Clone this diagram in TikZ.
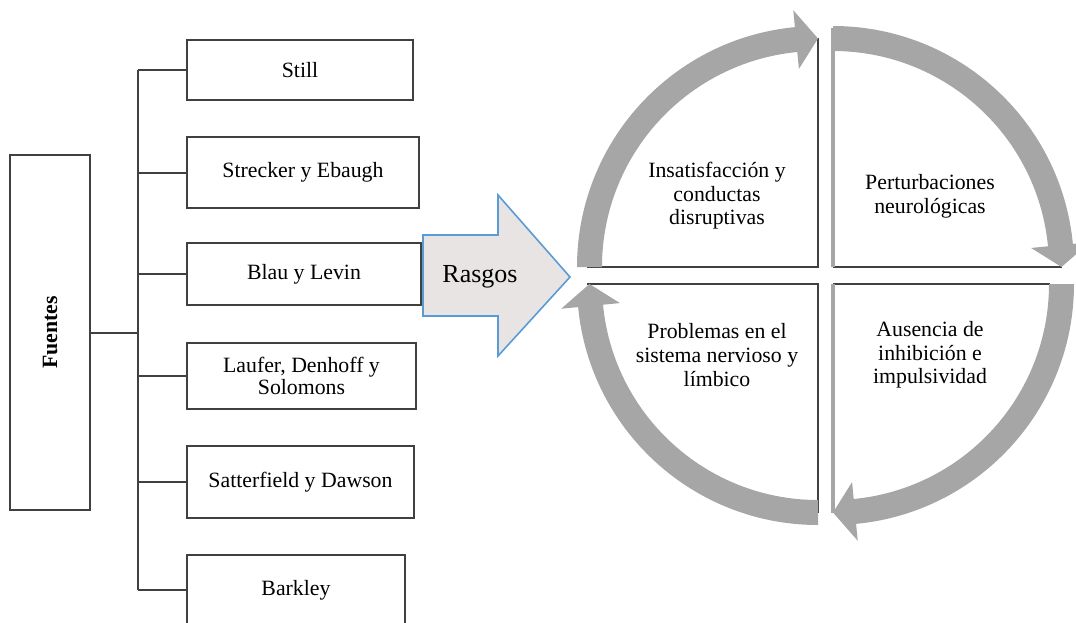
\documentclass[tikz,border=0pt]{standalone}
\usepackage{fontspec}
\setmainfont{Liberation Serif}
\usepackage{graphicx}

\definecolor{boxline}{HTML}{404040}
\definecolor{cyclegrey}{HTML}{A6A6A6}
\definecolor{rasgfill}{HTML}{E8E4E4}
\definecolor{rasgline}{HTML}{5B9BD5}

\tikzstyle{srcbox} = [
        draw=boxline,
        line width=0.8pt,
        fill=white,
        rectangle,
        inner sep=2pt,
        align=center,
        font=\fontsize{10.9}{11.2}\selectfont
    ]
\tikzstyle{tree} = [draw=boxline, line width=1pt]
\tikzstyle{quadline} = [draw=boxline, line width=0.7pt]
\tikzstyle{greyedge} = [draw=cyclegrey, line width=1.6pt]
\tikzstyle{quadtext} = [align=center, inner sep=0pt,
        font=\fontsize{10.9}{11.8}\selectfont]

\begin{document}
\begin{tikzpicture}[x=0.5pt, y=0.5pt]
        \useasboundingbox (0,0) rectangle (1076,-622);
        \clip (0,0) rectangle (1076,-622);
        % sources
        \node(fuen) [srcbox, minimum width=40pt, minimum height=177.5pt]
            at (50,-332.5) {\rotatebox{90}{\textbf{Fuentes}}};
        \node(stil) [srcbox, minimum width=113pt, minimum height=30pt]
            at (300,-70) {Still};
        \node(stre) [srcbox, minimum width=116pt, minimum height=35.5pt]
            at (303,-172.5) {Strecker y Ebaugh};
        \node(blau) [srcbox, minimum width=117pt, minimum height=31pt]
            at (304,-274) {Blau y Levin};
        \node(lauf) [srcbox, minimum width=114.5pt, minimum height=33pt]
            at (301.5,-376) {Laufer, Denhoff y\\Solomons};
        \node(satt) [srcbox, minimum width=113.5pt, minimum height=36pt]
            at (300.5,-482) {Satterfield y Dawson};
        \node(bark) [srcbox, minimum width=109pt, minimum height=35pt]
            at (296,-590) {Barkley};
        \coordinate(trnk) at (138,-332.5);
        \draw[tree] (fuen.east) -- (trnk);
        \draw[tree] (stil.west -| trnk) -- (bark.west -| trnk);
        \foreach \n in {stil,stre,blau,lauf,satt,bark}
            \draw[tree] (\n.west -| trnk) -- (\n.west);

        % big arrow
        \draw[fill=rasgfill, draw=rasgline, line width=0.8pt, line join=miter]
            (423,-235) -- (498,-235) -- (498,-195) -- (570,-277)
            -- (498,-356) -- (498,-316) -- (423,-316) -- cycle;
        \node(rasg) at (480,-277) {\fontsize{13}{14}\selectfont Rasgos};

        % cycle quadrants
        \draw[quadline] (818,-38) -- (818,-267) -- (587,-267);
        \draw[quadline] (833,-267) -- (1062,-267);
        \draw[greyedge] (833,-28) -- (833,-267);
        \draw[quadline] (587,-284) -- (818,-284) -- (818,-513);
        \draw[quadline] (833,-284) -- (1050,-284);
        \draw[greyedge] (833,-284) -- (833,-513);
        \foreach \cx/\cy/\a in {818/-267/180, 833/-267/90, 833/-284/0, 818/-284/-90}
        {
            \begin{scope}[shift={(\cx,\cy)}]
                \fill[cyclegrey] (\a:241)
                    arc[start angle=\a, end angle=\a-84.5, radius=241]
                    -- ({\a-84.5}:258) -- ({\a-90}:228.5) -- ({\a-84.5}:199)
                    -- ({\a-84.5}:216)
                    arc[start angle=\a-84.5, end angle=\a, radius=216]
                    -- cycle;
            \end{scope}
        }
        \node(qtl) [quadtext] at (717,-196)
            {Insatisfacción y\\conductas\\disruptivas};
        \node(qtr) [quadtext] at (930,-196)
            {Perturbaciones\\neurológicas};
        \node(qbl) [quadtext] at (717,-355)
            {Problemas en el\\sistema nervioso y\\límbico};
        \node(qbr) [quadtext] at (930,-355)
            {Ausencia de\\inhibición e\\impulsividad};
    \end{tikzpicture}
\end{document}
